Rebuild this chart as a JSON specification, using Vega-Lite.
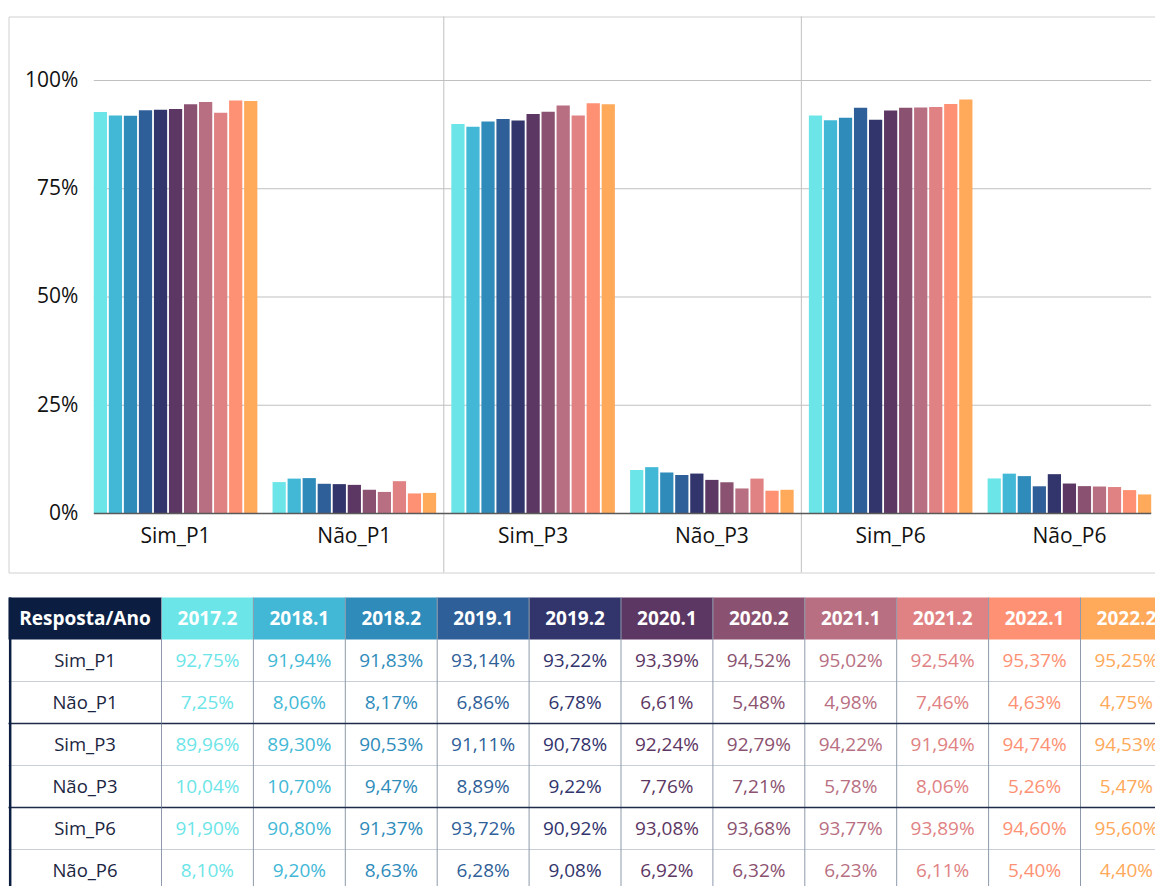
{
  "$schema": "https://vega.github.io/schema/vega-lite/v6.json",
  "background": "white",
  "padding": {"left": 7.5, "top": 15.5, "right": 0, "bottom": 0},
  "datasets": {
    "dados": [
      {"r": "Sim_P1", "a": "2017.2", "v": 0.9275}, {"r": "Sim_P1", "a": "2018.1", "v": 0.9194}, {"r": "Sim_P1", "a": "2018.2", "v": 0.9183}, {"r": "Sim_P1", "a": "2019.1", "v": 0.9314}, {"r": "Sim_P1", "a": "2019.2", "v": 0.9322}, {"r": "Sim_P1", "a": "2020.1", "v": 0.9339}, {"r": "Sim_P1", "a": "2020.2", "v": 0.9452}, {"r": "Sim_P1", "a": "2021.1", "v": 0.9502}, {"r": "Sim_P1", "a": "2021.2", "v": 0.9254}, {"r": "Sim_P1", "a": "2022.1", "v": 0.9537}, {"r": "Sim_P1", "a": "2022.2", "v": 0.9525},
      {"r": "Não_P1", "a": "2017.2", "v": 0.0725}, {"r": "Não_P1", "a": "2018.1", "v": 0.0806}, {"r": "Não_P1", "a": "2018.2", "v": 0.0817}, {"r": "Não_P1", "a": "2019.1", "v": 0.0686}, {"r": "Não_P1", "a": "2019.2", "v": 0.0678}, {"r": "Não_P1", "a": "2020.1", "v": 0.0661}, {"r": "Não_P1", "a": "2020.2", "v": 0.0548}, {"r": "Não_P1", "a": "2021.1", "v": 0.0498}, {"r": "Não_P1", "a": "2021.2", "v": 0.0746}, {"r": "Não_P1", "a": "2022.1", "v": 0.0463}, {"r": "Não_P1", "a": "2022.2", "v": 0.0475},
      {"r": "Sim_P3", "a": "2017.2", "v": 0.8996}, {"r": "Sim_P3", "a": "2018.1", "v": 0.8930}, {"r": "Sim_P3", "a": "2018.2", "v": 0.9053}, {"r": "Sim_P3", "a": "2019.1", "v": 0.9111}, {"r": "Sim_P3", "a": "2019.2", "v": 0.9078}, {"r": "Sim_P3", "a": "2020.1", "v": 0.9224}, {"r": "Sim_P3", "a": "2020.2", "v": 0.9279}, {"r": "Sim_P3", "a": "2021.1", "v": 0.9422}, {"r": "Sim_P3", "a": "2021.2", "v": 0.9194}, {"r": "Sim_P3", "a": "2022.1", "v": 0.9474}, {"r": "Sim_P3", "a": "2022.2", "v": 0.9453},
      {"r": "Não_P3", "a": "2017.2", "v": 0.1004}, {"r": "Não_P3", "a": "2018.1", "v": 0.1070}, {"r": "Não_P3", "a": "2018.2", "v": 0.0947}, {"r": "Não_P3", "a": "2019.1", "v": 0.0889}, {"r": "Não_P3", "a": "2019.2", "v": 0.0922}, {"r": "Não_P3", "a": "2020.1", "v": 0.0776}, {"r": "Não_P3", "a": "2020.2", "v": 0.0721}, {"r": "Não_P3", "a": "2021.1", "v": 0.0578}, {"r": "Não_P3", "a": "2021.2", "v": 0.0806}, {"r": "Não_P3", "a": "2022.1", "v": 0.0526}, {"r": "Não_P3", "a": "2022.2", "v": 0.0547},
      {"r": "Sim_P6", "a": "2017.2", "v": 0.9190}, {"r": "Sim_P6", "a": "2018.1", "v": 0.9080}, {"r": "Sim_P6", "a": "2018.2", "v": 0.9137}, {"r": "Sim_P6", "a": "2019.1", "v": 0.9372}, {"r": "Sim_P6", "a": "2019.2", "v": 0.9092}, {"r": "Sim_P6", "a": "2020.1", "v": 0.9308}, {"r": "Sim_P6", "a": "2020.2", "v": 0.9368}, {"r": "Sim_P6", "a": "2021.1", "v": 0.9377}, {"r": "Sim_P6", "a": "2021.2", "v": 0.9389}, {"r": "Sim_P6", "a": "2022.1", "v": 0.9460}, {"r": "Sim_P6", "a": "2022.2", "v": 0.9560},
      {"r": "Não_P6", "a": "2017.2", "v": 0.0810}, {"r": "Não_P6", "a": "2018.1", "v": 0.0920}, {"r": "Não_P6", "a": "2018.2", "v": 0.0863}, {"r": "Não_P6", "a": "2019.1", "v": 0.0628}, {"r": "Não_P6", "a": "2019.2", "v": 0.0908}, {"r": "Não_P6", "a": "2020.1", "v": 0.0692}, {"r": "Não_P6", "a": "2020.2", "v": 0.0632}, {"r": "Não_P6", "a": "2021.1", "v": 0.0623}, {"r": "Não_P6", "a": "2021.2", "v": 0.0611}, {"r": "Não_P6", "a": "2022.1", "v": 0.0540}, {"r": "Não_P6", "a": "2022.2", "v": 0.0440}
    ]
  },
  "vconcat": [
    {
      "width": 1162,
      "height": 556,
      "view": {"stroke": "#d0d0d0", "strokeWidth": 1},
      "layer": [
        {
          "data": {"values": [{"t": 0.25}, {"t": 0.5}, {"t": 0.75}, {"t": 1}]},
          "mark": {"type": "rule", "color": "#c0c0c0", "strokeWidth": 1},
          "encoding": {
            "x": {"datum": "Sim_P1", "type": "nominal", "bandPosition": 0},
            "x2": {"datum": "Não_P6", "bandPosition": 1},
            "y": {"field": "t", "type": "quantitative"}
          }
        },
        {
          "data": {"values": [{"g": "Sim_P3"}, {"g": "Sim_P6"}]},
          "mark": {"type": "rule", "color": "#c0c0c0", "strokeWidth": 1},
          "encoding": {
            "x": {"field": "g", "type": "nominal", "bandPosition": -0.046}
          }
        },
        {
          "data": {"name": "dados"},
          "mark": {"type": "bar"},
          "encoding": {
            "x": {"field": "r", "type": "nominal", "scale": {"domain": ["Sim_P1", "Não_P1", "Sim_P3", "Não_P3", "Sim_P6", "Não_P6"], "paddingInner": 0.085, "paddingOuter": 0.2925, "align": 0.8155}, "axis": {"title": null, "domain": false, "offset": -59}},
            "xOffset": {"field": "a", "type": "nominal", "scale": {"domain": ["2017.2", "2018.1", "2018.2", "2019.1", "2019.2", "2020.1", "2020.2", "2021.1", "2021.2", "2022.1", "2022.2"], "paddingInner": 0.12, "paddingOuter": 0}},
            "y": {"field": "v", "type": "quantitative", "scale": {"domain": [-0.1363, 1.1478], "nice": false, "zero": true}, "axis": {"values": [0, 0.25, 0.5, 0.75, 1], "format": ".0%", "title": null, "offset": -85.3, "grid": false, "domain": false}},
            "y2": {"datum": 0},
            "color": {"field": "a", "type": "nominal", "scale": {"domain": ["2017.2", "2018.1", "2018.2", "2019.1", "2019.2", "2020.1", "2020.2", "2021.1", "2021.2", "2022.1", "2022.2"], "range": ["#6CE5E8", "#42B8D6", "#2E8BBA", "#2F5F98", "#32346C", "#5D3763", "#8A5170", "#B86F82", "#E08283", "#FE9173", "#FFA95A"]}, "legend": null}
          }
        },
        {
          "data": {"values": [{}]},
          "mark": {"type": "rule", "color": "#595959", "strokeWidth": 1.5},
          "encoding": {
            "x": {"datum": "Sim_P1", "type": "nominal", "bandPosition": 0},
            "x2": {"datum": "Não_P6", "bandPosition": 1},
            "y": {"datum": 0, "type": "quantitative"}
          }
        }
      ]
    },
    {
      "hconcat": [
        {
          "width": 153,
          "height": 294,
          "layer": [
            {
              "data": {"name": "dados"},
              "transform": [{"aggregate": [{"op": "count", "as": "n"}], "groupby": ["r"]}],
              "mark": {"type": "rect", "color": "white"},
              "encoding": {
                "x": {"datum": "c", "type": "nominal", "scale": {"paddingInner": 0, "paddingOuter": 0}, "axis": null},
                "y": {"field": "r", "type": "nominal", "scale": {"domain": ["Resposta/Ano", "Sim_P1", "Não_P1", "Sim_P3", "Não_P3", "Sim_P6", "Não_P6"], "paddingInner": 0, "paddingOuter": 0}, "axis": null}
              }
            },
            {
              "data": {"values": [{}]},
              "mark": {"type": "rect", "color": "#0B1E42"},
              "encoding": {
                "x": {"datum": "c", "type": "nominal"},
                "y": {"datum": "Resposta/Ano", "type": "nominal"}
              }
            },
            {
              "data": {"values": [{}]},
              "mark": {"type": "text", "color": "white", "fontWeight": "bold", "fontSize": 19, "font": "Open Sans"},
              "encoding": {
                "x": {"datum": "c", "type": "nominal"},
                "y": {"datum": "Resposta/Ano", "type": "nominal"},
                "text": {"value": "Resposta/Ano"}
              }
            },
            {
              "data": {"name": "dados"},
              "transform": [{"aggregate": [{"op": "count", "as": "n"}], "groupby": ["r"]}],
              "mark": {"type": "text", "color": "#1B2541", "fontSize": 18.5, "font": "Open Sans"},
              "encoding": {
                "x": {"datum": "c", "type": "nominal"},
                "y": {"field": "r", "type": "nominal"},
                "text": {"field": "r", "type": "nominal"}
              }
            },
            {
              "data": {"name": "dados"},
              "transform": [{"aggregate": [{"op": "count", "as": "n"}], "groupby": ["r"]}, {"filter": {"field": "r", "oneOf": ["Não_P1", "Não_P3", "Não_P6"]}}],
              "mark": {"type": "rule", "color": "#C9CFD8", "strokeWidth": 1},
              "encoding": {
                "y": {"field": "r", "type": "nominal", "bandPosition": 0}
              }
            },
            {
              "data": {"name": "dados"},
              "transform": [{"aggregate": [{"op": "count", "as": "n"}], "groupby": ["r"]}, {"filter": {"field": "r", "oneOf": ["Sim_P3", "Sim_P6"]}}],
              "mark": {"type": "rule", "color": "#1E2B48", "strokeWidth": 1.5},
              "encoding": {
                "y": {"field": "r", "type": "nominal", "bandPosition": 0}
              }
            },
            {
              "data": {"values": [{}]},
              "mark": {"type": "rule", "color": "#0B1E42", "strokeWidth": 2.5},
              "encoding": {
                "x": {"datum": "c", "type": "nominal", "bandPosition": 0.011}
              }
            }
          ]
        },
        {
          "width": 1010.9,
          "height": 294,
          "layer": [
            {
              "data": {"name": "dados"},
              "mark": {"type": "rect", "color": "white"},
              "encoding": {
                "x": {"field": "a", "type": "nominal", "scale": {"domain": ["2017.2", "2018.1", "2018.2", "2019.1", "2019.2", "2020.1", "2020.2", "2021.1", "2021.2", "2022.1", "2022.2"], "paddingInner": 0, "paddingOuter": 0}, "axis": null},
                "y": {"field": "r", "type": "nominal", "scale": {"domain": ["Resposta/Ano", "Sim_P1", "Não_P1", "Sim_P3", "Não_P3", "Sim_P6", "Não_P6"], "paddingInner": 0, "paddingOuter": 0}, "axis": null}
              }
            },
            {
              "data": {"name": "dados"},
              "transform": [{"aggregate": [{"op": "count", "as": "n"}], "groupby": ["a"]}],
              "mark": {"type": "rect"},
              "encoding": {
                "x": {"field": "a", "type": "nominal"},
                "y": {"datum": "Resposta/Ano", "type": "nominal"},
                "color": {"field": "a", "type": "nominal", "scale": {"domain": ["2017.2", "2018.1", "2018.2", "2019.1", "2019.2", "2020.1", "2020.2", "2021.1", "2021.2", "2022.1", "2022.2"], "range": ["#6CE5E8", "#42B8D6", "#2E8BBA", "#2F5F98", "#32346C", "#5D3763", "#8A5170", "#B86F82", "#E08283", "#FE9173", "#FFA95A"]}, "legend": null}
              }
            },
            {
              "data": {"name": "dados"},
              "transform": [{"aggregate": [{"op": "count", "as": "n"}], "groupby": ["r"]}, {"filter": {"field": "r", "oneOf": ["Não_P1", "Não_P3", "Não_P6"]}}],
              "mark": {"type": "rule", "color": "#C9CFD8", "strokeWidth": 1},
              "encoding": {
                "y": {"field": "r", "type": "nominal", "bandPosition": 0}
              }
            },
            {
              "data": {"name": "dados"},
              "transform": [{"aggregate": [{"op": "count", "as": "n"}], "groupby": ["a"]}],
              "mark": {"type": "rule", "color": "#8E9AAB", "strokeWidth": 1},
              "encoding": {
                "x": {"field": "a", "type": "nominal", "bandPosition": 0}
              }
            },
            {
              "data": {"name": "dados"},
              "transform": [{"aggregate": [{"op": "count", "as": "n"}], "groupby": ["r"]}, {"filter": {"field": "r", "oneOf": ["Sim_P3", "Sim_P6"]}}],
              "mark": {"type": "rule", "color": "#1E2B48", "strokeWidth": 1.5},
              "encoding": {
                "y": {"field": "r", "type": "nominal", "bandPosition": 0}
              }
            },
            {
              "data": {"name": "dados"},
              "transform": [{"aggregate": [{"op": "count", "as": "n"}], "groupby": ["a"]}],
              "mark": {"type": "text", "color": "white", "fontWeight": "bold", "fontSize": 19, "font": "Open Sans"},
              "encoding": {
                "x": {"field": "a", "type": "nominal"},
                "y": {"datum": "Resposta/Ano", "type": "nominal"},
                "text": {"field": "a", "type": "nominal"}
              }
            },
            {
              "data": {"name": "dados"},
              "mark": {"type": "text", "fontSize": 19, "font": "Open Sans"},
              "encoding": {
                "x": {"field": "a", "type": "nominal"},
                "y": {"field": "r", "type": "nominal"},
                "text": {"field": "v", "type": "quantitative", "format": ".2%"},
                "color": {"field": "a", "type": "nominal", "scale": {"domain": ["2017.2", "2018.1", "2018.2", "2019.1", "2019.2", "2020.1", "2020.2", "2021.1", "2021.2", "2022.1", "2022.2"], "range": ["#6CE5E8", "#42B8D6", "#2E8BBA", "#2F5F98", "#32346C", "#5D3763", "#8A5170", "#B86F82", "#E08283", "#FE9173", "#FFA95A"]}, "legend": null}
              }
            }
          ]
        }
      ],
      "spacing": 0,
      "bounds": "flush"
    }
  ],
  "bounds": "flush",
  "spacing": 25,
  "config": {
    "view": {"stroke": null},
    "font": "Open Sans",
    "locale": {"number": {"decimal": ",", "thousands": ".", "grouping": [3], "currency": ["R$", ""]}},
    "axis": {"labelFont": "Open Sans", "labelFontSize": 21, "labelColor": "#111111", "ticks": false},
    "axisY": {"labelPadding": 16},
    "axisX": {"labelPadding": 12, "labelAngle": 0, "grid": false}
  }
}
